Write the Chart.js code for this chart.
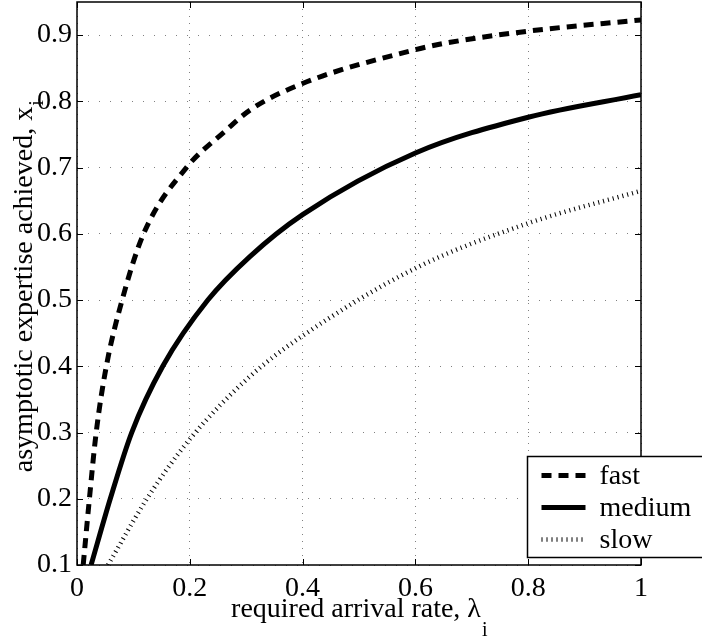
<!DOCTYPE html>
<html>
<head>
<meta charset="utf-8">
<script src="https://cdn.jsdelivr.net/npm/chart.js@4.4.0/dist/chart.umd.min.js"></script>
<style>
  html, body { margin: 0; padding: 0; background: #fff; }
  canvas { display: block; }
</style>
</head>
<body>
<canvas id="expertiseChart" width="702" height="638"></canvas>
<script>
// axis ticks
const xTicks = [0, 0.2, 0.4, 0.6, 0.8, 1];
const yTicks = [0.1, 0.2, 0.3, 0.4, 0.5, 0.6, 0.7, 0.8, 0.9];

const xTitle = 'required arrival rate, \u03bb';
const yTitle = 'asymptotic expertise achieved, x';

// arrival rate -> expertise
const fastRate = [0.011, 0.022, 0.034, 0.052, 0.080, 0.118, 0.194, 0.264, 0.307, 0.4, 0.6, 0.654, 0.8, 1.0];
const fastExpertise = [0.1, 0.2, 0.3, 0.4, 0.5, 0.6, 0.7, 0.756, 0.787, 0.827, 0.878, 0.888, 0.906, 0.923];

const mediumRate = [0.025, 0.059, 0.097, 0.152, 0.232, 0.307, 0.4, 0.6, 0.8, 1.0];
const mediumExpertise = [0.1, 0.2, 0.3, 0.4, 0.5, 0.566, 0.629, 0.722, 0.776, 0.81];

const slowRate = [0.055, 0.124, 0.2, 0.307, 0.4, 0.6, 0.8, 1.0];
const slowExpertise = [0.1, 0.2, 0.29, 0.385, 0.446, 0.548, 0.616, 0.665];

const serif = '"Liberation Serif", "Times New Roman", serif';

function toPoints(xs, ys) {
    return xs.map((x, i) => ({ x: x, y: ys[i] }));
}

function lineStyle(label, rate, values, width, dash) {
    return {
        label: label,
        data: toPoints(rate, values),
        borderColor: '#000',
        borderWidth: width,
        borderDash: dash,
        borderCapStyle: 'butt',
        pointRadius: 0,
        cubicInterpolationMode: 'monotone',
        clip: 0
    };
}

// box, inward ticks, legend and axis titles (with subscripts)
const frameAndLabels = {
    id: 'frameAndLabels',
    afterDraw(chart) {
        const ctx = chart.ctx;
        const area = chart.chartArea;
        const xs = chart.scales.x, ys = chart.scales.y;
        ctx.save();

        ctx.strokeStyle = '#000';
        ctx.lineWidth = 1;
        ctx.beginPath();
        xTicks.forEach(v => {
            const px = Math.round(xs.getPixelForValue(v)) + 0.5;
            ctx.moveTo(px, area.bottom); ctx.lineTo(px, area.bottom - 6);
            ctx.moveTo(px, area.top); ctx.lineTo(px, area.top + 6);
        });
        yTicks.forEach(v => {
            const py = Math.round(ys.getPixelForValue(v)) + 0.5;
            ctx.moveTo(area.left, py); ctx.lineTo(area.left + 6, py);
            ctx.moveTo(area.right, py); ctx.lineTo(area.right - 6, py);
        });
        ctx.stroke();

        ctx.lineWidth = 1.5;
        ctx.strokeRect(area.left, area.top, area.right - area.left, area.bottom - area.top);

        // legend, runs off the right edge like the original
        const lx = area.right - 113.5, ly = area.bottom - 108.5;
        ctx.fillStyle = '#fff';
        ctx.fillRect(lx, ly, 220, 101);
        ctx.lineWidth = 1.5;
        ctx.strokeRect(lx, ly, 220, 101);
        chart.data.datasets.forEach((ds, i) => {
            const y = ly + 19 + i * 32;
            ctx.save();
            ctx.lineWidth = ds.borderWidth;
            ctx.strokeStyle = ds.borderColor;
            ctx.setLineDash(ds.borderDash || []);
            ctx.lineCap = 'butt';
            ctx.beginPath();
            ctx.moveTo(lx + 14, y);
            ctx.lineTo(lx + 58, y);
            ctx.stroke();
            ctx.restore();
            ctx.fillStyle = '#000';
            ctx.font = '28px ' + serif;
            ctx.textAlign = 'left';
            ctx.textBaseline = 'alphabetic';
            ctx.fillText(ds.label, lx + 72, y + 8.5);
        });

        // x title
        ctx.fillStyle = '#000';
        ctx.textAlign = 'left';
        ctx.textBaseline = 'alphabetic';
        ctx.font = '28px ' + serif;
        const w = ctx.measureText(xTitle).width;
        const cx = (area.left + area.right) / 2 - 3;
        ctx.fillText(xTitle, cx - w / 2, 617);
        ctx.font = '20px ' + serif;
        ctx.fillText('i', cx + w / 2 + 1, 636);

        // y title
        ctx.translate(32, (area.top + area.bottom) / 2 + 6);
        ctx.rotate(-Math.PI / 2);
        ctx.font = '28px ' + serif;
        const w2 = ctx.measureText(yTitle).width;
        ctx.fillText(yTitle, -w2 / 2, 0);
        ctx.font = '20px ' + serif;
        ctx.fillText('i', w2 / 2 + 1, 11);

        ctx.restore();
    }
};

const ctx = document.getElementById('expertiseChart').getContext('2d');
const myChart = new Chart(ctx, {
    type: 'line',
    data: {
        datasets: [
            lineStyle('fast', fastRate, fastExpertise, 5, [10, 7]),
            lineStyle('medium', mediumRate, mediumExpertise, 5, []),
            lineStyle('slow', slowRate, slowExpertise, 4.5, [1, 4])
        ]
    },
    options: {
        responsive: false,
        animation: false,
        devicePixelRatio: 1,
        layout: {
            padding: { left: 0, right: 61, top: 2, bottom: 0 }
        },
        plugins: {
            legend: { display: false },
            title: { display: false },
            tooltip: { enabled: false }
        },
        scales: {
            x: {
                type: 'linear',
                min: 0,
                max: 1,
                afterBuildTicks: scale => { scale.ticks = xTicks.map(v => ({ value: v })); },
                afterFit: scale => {
                    scale.height = 73;
                    scale.paddingLeft = 0;
                    scale.paddingRight = 0;
                },
                grid: { color: '#808080', lineWidth: 1, drawTicks: false },
                border: { display: false, dash: [1, 6] },
                ticks: {
                    padding: 7,
                    color: '#000',
                    font: { family: serif, size: 28 },
                    callback: v => String(Math.round(v * 10) / 10)
                }
            },
            y: {
                type: 'linear',
                min: 0.1,
                max: 0.95,
                afterBuildTicks: scale => { scale.ticks = yTicks.map(v => ({ value: v })); },
                afterFit: scale => {
                    scale.width = 77;
                    scale.paddingTop = 0;
                    scale.paddingBottom = 0;
                },
                grid: { color: '#808080', lineWidth: 1, drawTicks: false },
                border: { display: false, dash: [1, 10] },
                ticks: {
                    padding: 5,
                    color: '#000',
                    font: { family: serif, size: 28 },
                    callback: v => (Math.round(v * 10) / 10).toFixed(1)
                }
            }
        }
    },
    plugins: [frameAndLabels]
});
</script>
</body>
</html>
